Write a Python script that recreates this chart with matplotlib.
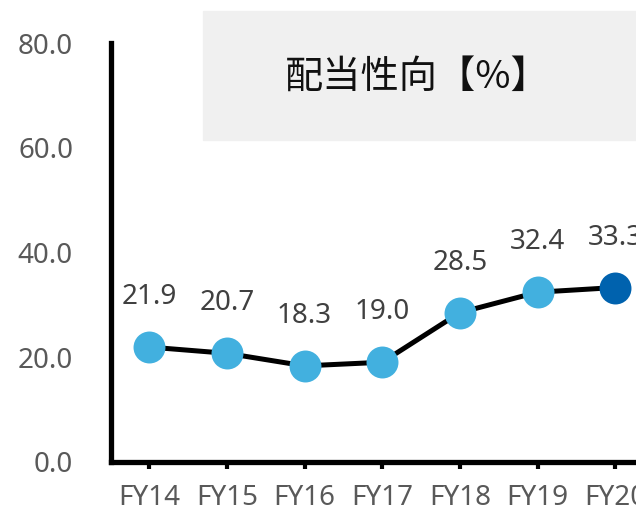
import matplotlib
matplotlib.use("Agg")
import matplotlib.pyplot as plt
from matplotlib.patches import Rectangle

plt.rcParams['font.family'] = ['Noto Sans', 'Noto Sans CJK JP', 'DejaVu Sans']

years = ['FY14', 'FY15', 'FY16', 'FY17', 'FY18', 'FY19', 'FY20']
payout = [21.9, 20.7, 18.3, 19.0, 28.5, 32.4, 33.3]
yticks = [0, 20, 40, 60, 80]
title = '配当性向【%】'

light = '#42B0DF'
dark = '#0062AE'
grey = '#595959'

fig = plt.figure(figsize=(6.36, 5.12), dpi=100)
# axes runs past the right edge, like the source crop
ax = fig.add_axes([110.5 / 636, 50.5 / 512, 543.5 / 636, 418 / 512])

xs = list(range(len(years)))
ax.plot(xs, payout, color='black', lw=3.6, zorder=2)
for i, v in enumerate(payout):
    c = dark if i == len(payout) - 1 else light
    ax.plot(i, v, 'o', ms=23, color=c, mec='none', zorder=3)
    ax.annotate('%.1f' % v, (i, v), xytext=(0, 36), textcoords='offset points',
                ha='center', va='center', fontsize=20, color='#404040',
                annotation_clip=False)

ax.set_xlim(-0.5, 6.5)
ax.set_ylim(0, 80)
ax.set_xticks(xs)
ax.set_xticklabels(years)
ax.set_yticks(yticks)
ax.set_yticklabels(['%.1f' % t for t in yticks])
ax.tick_params(axis='y', length=0, pad=27, labelsize=20, labelcolor=grey)
ax.tick_params(axis='x', length=5, width=3, pad=11, labelsize=20, labelcolor=grey)
for s in ['top', 'right']:
    ax.spines[s].set_visible(False)
for s in ['left', 'bottom']:
    ax.spines[s].set_linewidth(3.8)
    ax.spines[s].set_capstyle('projecting')

fig.patches.append(Rectangle((203 / 636, 372 / 512), 1, 129 / 512,
                             transform=fig.transFigure, color='#F0F0F0', zorder=0))
fig.text(417 / 636, 435 / 512, title, ha='center', va='center', fontsize=27.5,
         color='#111111', family=['Noto Sans CJK JP'])

fig.savefig('out.png', dpi=100)
